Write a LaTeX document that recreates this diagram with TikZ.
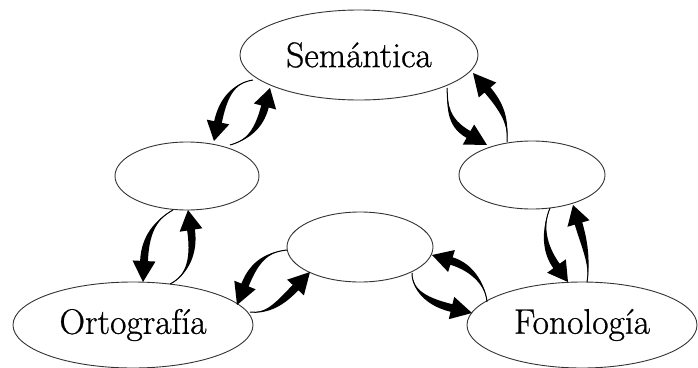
\documentclass[tikz,border=0pt]{standalone}
\usepackage{fontspec}
\newfontfamily\labelfont{Latin Modern Roman}[FakeBold=0.8]
\usetikzlibrary{calc,shapes.geometric}

% Tapered curved arrow: #1 tail, #2 tail control, #3 tip, #4 head vector (base centre -> tip)
\newcommand\curvedflow[4]{%
  \coordinate (fT) at #1;
  \coordinate (fC1) at #2;
  \coordinate (fP) at #3;
  \coordinate (fM) at ($(fP)-#4$);
  \coordinate (fC2) at ($(fM)!-1.2!(fP)$);
  \coordinate (fL) at ($(fM)!3.9pt!90:(fP)$);
  \coordinate (fR) at ($(fM)!3.9pt!-90:(fP)$);
  \coordinate (fCL) at ($(fC2)!3.9pt!90:(fP)$);
  \coordinate (fCR) at ($(fC2)!3.9pt!-90:(fP)$);
  \coordinate (fHL) at ($(fM)!11.5pt!90:(fP)$);
  \coordinate (fHR) at ($(fM)!11.5pt!-90:(fP)$);
  \fill[black] (fT) .. controls (fC1) and (fCL) .. (fL) -- (fHL) -- (fP)
    -- (fHR) -- (fR) .. controls (fCR) and (fC1) .. (fT) -- cycle;
  \draw[black,line width=1pt] (fT) .. controls (fC1) and (fC2) .. (fM);
}

\begin{document}
\begin{tikzpicture}[x=1pt,y=-1pt,
  bubble/.style={ellipse,draw=black!80,line width=0.9pt,fill=white,inner sep=0pt},
  word/.style={font=\labelfont\fontsize{35.5}{42}\selectfont}]
\useasboundingbox (0,0) rectangle (698,367);

% domains
\node[bubble,word,minimum width=238,minimum height=90] (sem) at (359,55) {Semántica};
\node[bubble,minimum width=144,minimum height=68] (lft) at (187,176) {};
\node[bubble,minimum width=146,minimum height=68] (rgt) at (532,175) {};
\node[bubble,minimum width=146,minimum height=70] (mid) at (360,247) {};
\node[bubble,word,minimum width=240,minimum height=86] (ort) at (133,325) {Ortografía};
\node[bubble,word,minimum width=230,minimum height=86] (fon) at (582,325) {Fonología};

% Semántica <-> left
\curvedflow{($(sem)+(-106,25)$)}{(233,83)}{($(lft)+(27,-35)$)}{(-4,19)}
\curvedflow{($(lft)+(43,-31)$)}{(248,140)}{($(sem)+(-89,33)$)}{(5,-18.5)}
% Semántica <-> right
\curvedflow{($(sem)+(88,33)$)}{(448,104)}{($(rgt)+(-45,-30)$)}{(18.5,10.5)}
\curvedflow{($(rgt)+(-25,-33)$)}{(508,125)}{($(sem)+(114,18)$)}{(-14.5,-17)}
% left <-> Ortografía
\curvedflow{($(lft)+(-14,34)$)}{(155,220)}{($(ort)+(10,-43)$)}{(-1,21)}
\curvedflow{($(ort)+(37,-41)$)}{(188,275)}{($(lft)+(1,34)$)}{(-3,-20)}
% centre <-> Ortografía
\curvedflow{($(mid)+(-73,3)$)}{(268,252)}{($(ort)+(104,-20)$)}{(-8,20)}
\curvedflow{($(ort)+(117,-13)$)}{(265,314)}{($(mid)+(-50,25)$)}{(14.5,-15.5)}
% centre <-> Fonología
\curvedflow{($(fon)+(-95,-23)$)}{(486,288)}{($(mid)+(72,8)$)}{(-19.5,-6)}
\curvedflow{($(mid)+(52,26)$)}{(412,290)}{($(fon)+(-110,-12)$)}{(20.5,5)}
% right <-> Fonología
\curvedflow{($(rgt)+(18,33)$)}{(543,225)}{($(fon)+(-14,-43)$)}{(11.5,16)}
\curvedflow{($(fon)+(5,-43)$)}{(590,265)}{($(rgt)+(41,30)$)}{(-5.5,-18.5)}
\end{tikzpicture}
\end{document}
